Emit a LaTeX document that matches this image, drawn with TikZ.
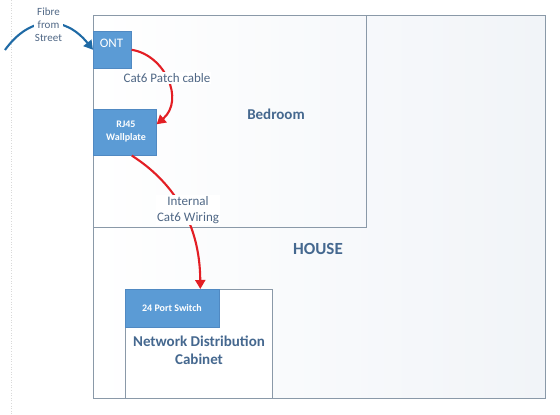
\documentclass[tikz,border=0pt]{standalone}
\usepackage{fontspec}
\setmainfont{Carlito}
\usetikzlibrary{arrows.meta}
\definecolor{boxblue}{HTML}{5B9BD5}
\definecolor{boxedge}{HTML}{5089C2}
\definecolor{roomline}{HTML}{8A99A8}
\definecolor{labelc}{HTML}{4F6785}
\definecolor{boldc}{HTML}{45688F}
\definecolor{redc}{HTML}{E31E24}
\definecolor{arcblue}{HTML}{1F6AA5}
\definecolor{housetop}{HTML}{F1F4F8}
\tikzset{
  room/.style={draw=roomline, line width=0.9pt, rectangle, inner sep=0pt, anchor=north west},
  devbox/.style={fill=boxblue, draw=boxedge, line width=0.6pt, rectangle, inner sep=0pt, anchor=north west},
  devtext/.style={text=white, font=\bfseries\fontsize{10}{13}\selectfont, align=center},
  lbl/.style={text=labelc, fill=white, inner sep=1pt, align=center, font=\fontsize{13}{16}\selectfont},
  biglbl/.style={text=boldc, align=center, font=\bfseries\fontsize{15}{18}\selectfont},
  redwire/.style={draw=redc, line width=2.1pt, -{Triangle[length=9pt,width=10pt]}},
  fibre/.style={draw=arcblue, line width=2.1pt, -{Triangle[length=9pt,width=10pt]}}
}
\begin{document}
\begin{tikzpicture}[x=1pt,y=-1pt]
\useasboundingbox (0,0) rectangle (560,415);
\draw[gray!30, dotted, line width=0.6pt] (11,0) -- (11,415);
% rooms
\node[room, left color=white, middle color=white, right color=housetop, minimum width=452pt, minimum height=383pt] (house) at (93,15) {};
\node[room, minimum width=273pt, minimum height=212pt] (bedroom) at (93,15) {};
\node[room, fill=white, minimum width=147pt, minimum height=109pt] (cabinet) at (125,289) {};
% devices
\node[devbox, minimum width=38pt, minimum height=37pt] (ont) at (93,31) {};
\node[text=white, font=\fontsize{13}{15}\selectfont, inner sep=0pt] (onttxt) at (111.5,43.5) {ONT};
\node[devbox, minimum width=63pt, minimum height=46pt] (rj45) at (93,109) {};
\node[devtext] (rj45txt) at (126,132) {RJ45\\Wallplate};
\node[devbox, minimum width=94pt, minimum height=38pt] (sw) at (125,289) {};
\node[devtext] (swtxt) at (172,308) {24 Port Switch};
% connectors
\coordinate (street) at (5,50);
\draw[fibre] (street) .. controls (30,15) and (65,15) .. (ont.west);
\draw[redwire] (ont.east) .. controls (165,55) and (185,100) .. ([yshift=8pt]rj45.east);
\draw[redwire] ([xshift=7pt]rj45.south) .. controls (170,180) and (200,220) .. ([xshift=28pt]sw.north);
% labels
\node[lbl, font=\fontsize{11}{13}\selectfont] (fibrelbl) at (48.5,25) {Fibre\\from\\Street};
\node[lbl] (patchlbl) at (167,78) {Cat6 Patch cable};
\node[lbl] (wirelbl) at (188,210) {Internal\\Cat6 Wiring};
\node[biglbl] (bedlbl) at (276,114) {Bedroom};
\node[biglbl, font=\bfseries\fontsize{17}{20}\selectfont] (houselbl) at (318,249) {HOUSE};
\node[biglbl] (cablbl) at (199,350) {Network Distribution\\Cabinet};
\end{tikzpicture}
\end{document}
